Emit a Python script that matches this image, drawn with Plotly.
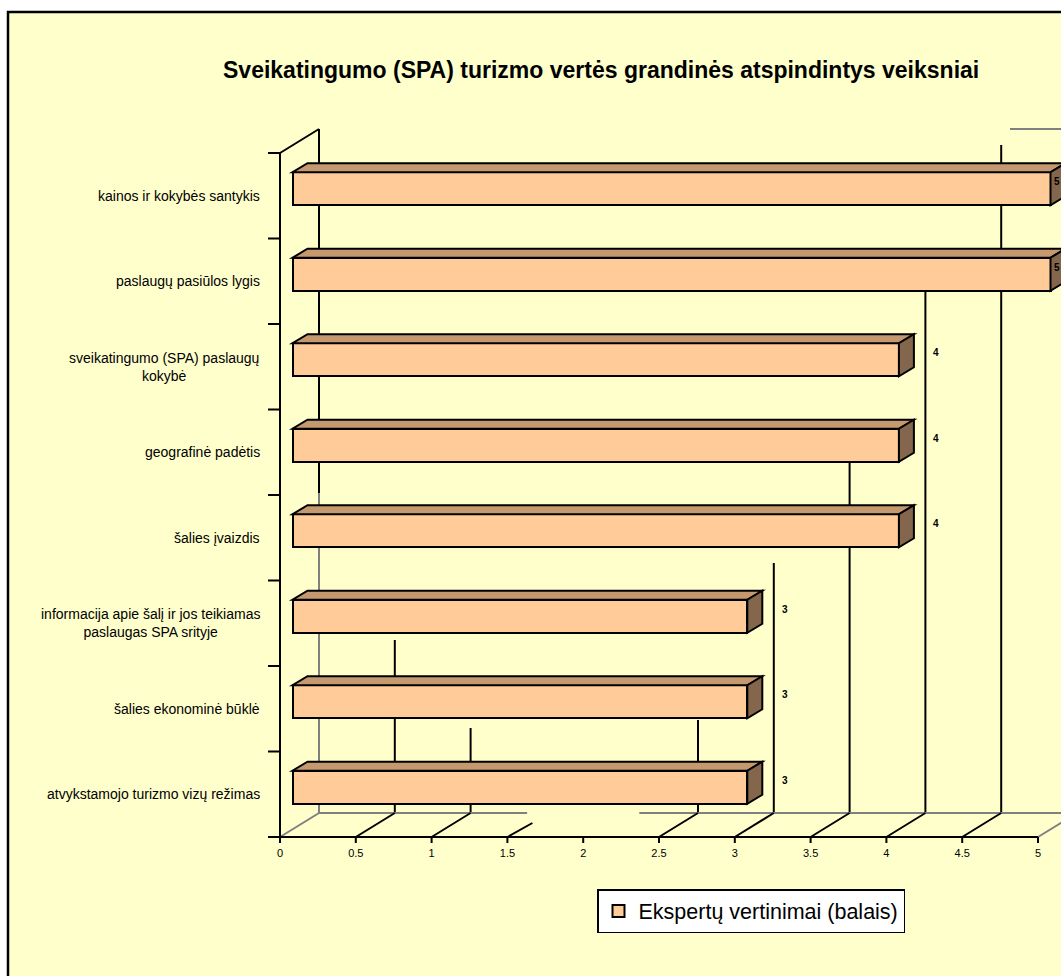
import plotly.graph_objects as go

# ---- data -------------------------------------------------------------
categories = [
    "atvykstamojo turizmo vizų režimas",
    "šalies ekonominė būklė",
    "informacija apie šalį ir jos teikiamas<br>paslaugas SPA srityje",
    "šalies įvaizdis",
    "geografinė padėtis",
    "sveikatingumo (SPA) paslaugų<br>kokybė",
    "paslaugų pasiūlos lygis",
    "kainos ir kokybės santykis",
]
scores = [3, 3, 3, 4, 4, 4, 5, 5]

x_tick_values = [0, 0.5, 1, 1.5, 2, 2.5, 3, 3.5, 4, 4.5, 5]
x_tick_labels = ["0", "0.5", "1", "1.5", "2", "2.5", "3", "3.5", "4", "4.5", "5"]

series_name = "Ekspertų vertinimai (balais)"
chart_title = "Sveikatingumo (SPA) turizmo vertės grandinės atspindintys veiksniai"

# ---- page geometry ----------------------------------------------------
W, H = 1061, 976
FONT = "Arial, Liberation Sans, sans-serif"
X0_PX, Y0_PX = 280, 837          # pixel position of value 0 / bottom of category axis
UX, UY = 151.6, 85.5             # pixels per value unit / per category band


def ux(px):
    return px / UX


def uy(px):
    return px / UY


def pxx(px):
    return px / W


def pxy(py):
    return 1 - py / H


# 3-D look: back wall offset, bar depth and bar placement
WALL_DX, WALL_DY = ux(39), uy(24)
BAR_DX, BAR_DY = ux(15), uy(9)
BAR_BASE = ux(12.5)
BAR_SHIFT = uy(7)
BAR_W = uy(33)

FRONT = "#FFCC99"
TOP = "#C4996F"
SIDE = "#83664B"
GRAY = "#808080"
BG = "#FFFFCC"

n = len(categories)
centers = [i + 0.5 + BAR_SHIFT for i in range(n)]

fig = go.Figure()
fig.add_trace(go.Bar(
    orientation="h",
    x=scores,
    y=centers,
    base=[BAR_BASE] * n,
    width=BAR_W,
    marker=dict(color=FRONT, line=dict(color="black", width=2)),
    name=series_name,
    showlegend=True,
    hoverinfo="skip",
))

shapes = []

# chart frame and background
shapes.append(dict(type="rect", xref="paper", yref="paper",
                   x0=pxx(8), x1=pxx(W + 10), y0=pxy(12), y1=pxy(H + 10),
                   fillcolor=BG, line=dict(color="black", width=2.5), layer="below"))


def seg(x0, y0, x1, y1, color="black", width=2, layer="below"):
    shapes.append(dict(type="line", xref="x", yref="y", x0=x0, y0=y0, x1=x1, y1=y1,
                       line=dict(color=color, width=width), layer=layer))


# wall gridlines behind the bars: (value, top of the visible line in category units)
wall_tops = {0.5: uy(837 - 640), 1.0: uy(837 - 728), 2.5: uy(837 - 720),
             3.0: uy(837 - 563), 3.5: uy(837 - 462), 4.0: uy(837 - 291),
             4.5: uy(837 - 145)}
for v, top in wall_tops.items():
    seg(v + WALL_DX, WALL_DY, v + WALL_DX, top)

# back edge of the left wall
seg(WALL_DX, n + WALL_DY, WALL_DX, uy(837 - 493))
seg(WALL_DX, uy(837 - 493), WALL_DX, WALL_DY, color=GRAY)
seg(0, n, WALL_DX, n + WALL_DY)
seg(ux(1010 - 280), n + WALL_DY, ux(W - 280) + 0.1, n + WALL_DY, color=GRAY)

# floor back edge
seg(WALL_DX, WALL_DY, 1.63, WALL_DY, color=GRAY)
seg(2.37, WALL_DY, ux(W - 280) + 0.1, WALL_DY, color=GRAY)

# floor diagonals from the value ticks
for v in [0.5, 1.0, 2.5, 3.0, 3.5, 4.0, 4.5]:
    seg(v, 0, v + WALL_DX, WALL_DY)
seg(1.5, 0, 1.5 + ux(25), uy(14))
seg(0, 0, WALL_DX, WALL_DY, color=GRAY)
seg(5, 0, 5 + WALL_DX, WALL_DY, color=GRAY)

# front axes
seg(0, 0, 5, 0)
seg(0, 0, 0, n)
for k in range(n + 1):
    seg(-ux(12), k, 0, k)
for v in x_tick_values:
    seg(v, 0, v, -uy(6))

# top and side faces of each bar
for c, v in zip(centers, scores):
    x0, x1 = BAR_BASE, BAR_BASE + v
    yt, yb = c + BAR_W / 2, c - BAR_W / 2
    shapes.append(dict(
        type="path", xref="x", yref="y", layer="above",
        path=f"M{x0},{yt} L{x1},{yt} L{x1 + BAR_DX},{yt + BAR_DY} L{x0 + BAR_DX},{yt + BAR_DY} Z",
        fillcolor=TOP, line=dict(color="black", width=2)))
    shapes.append(dict(
        type="path", xref="x", yref="y", layer="above",
        path=f"M{x1},{yb} L{x1},{yt} L{x1 + BAR_DX},{yt + BAR_DY} L{x1 + BAR_DX},{yb + BAR_DY} Z",
        fillcolor=SIDE, line=dict(color="black", width=2)))

annotations = []

# category labels
for i, name in enumerate(categories):
    annotations.append(dict(
        x=-ux(18), y=i + 0.5, xref="x", yref="y", text=name, showarrow=False,
        xanchor="right", yanchor="middle", align="center",
        font=dict(family=FONT, size=14, color="black")))

# value labels
x_edge = ux(1057 - 280)
for c, v in zip(centers, scores):
    annotations.append(dict(
        x=min(v + 0.33, x_edge), y=c + uy(7), xref="x", yref="y", text=str(v),
        showarrow=False, xanchor="center", yanchor="middle",
        font=dict(family=FONT, size=10, color="black", weight="bold")))

annotations.append(dict(
    x=pxx(601), y=pxy(70), xref="paper", yref="paper", text=f"<b>{chart_title}</b>",
    showarrow=False, xanchor="center", yanchor="middle",
    font=dict(family=FONT, size=23, color="black")))

fig.update_layout(
    width=W, height=H,
    margin=dict(l=0, r=0, t=0, b=0),
    paper_bgcolor="white",
    plot_bgcolor="rgba(0,0,0,0)",
    shapes=shapes,
    annotations=annotations,
    bargap=0,
    xaxis=dict(
        domain=[pxx(250), 1.0],
        range=[-ux(30), ux(W - 280)],
        tickvals=x_tick_values, ticktext=x_tick_labels,
        ticks="", showgrid=False, zeroline=False, showline=False,
        tickfont=dict(family=FONT, size=11, color="black"),
        fixedrange=True,
    ),
    yaxis=dict(
        domain=[pxy(845), pxy(100)],
        range=[-uy(8), uy(837 - 100)],
        showticklabels=False, ticks="", showgrid=False, zeroline=False,
        showline=False, fixedrange=True,
    ),
    legend=dict(
        x=pxx(597), y=pxy(889), xanchor="left", yanchor="top",
        bgcolor="white", bordercolor="black", borderwidth=1.5,
        font=dict(family=FONT, size=21.5, color="black"),
        itemwidth=30,
    ),
    showlegend=True,
)

fig.write_html("out.html")
